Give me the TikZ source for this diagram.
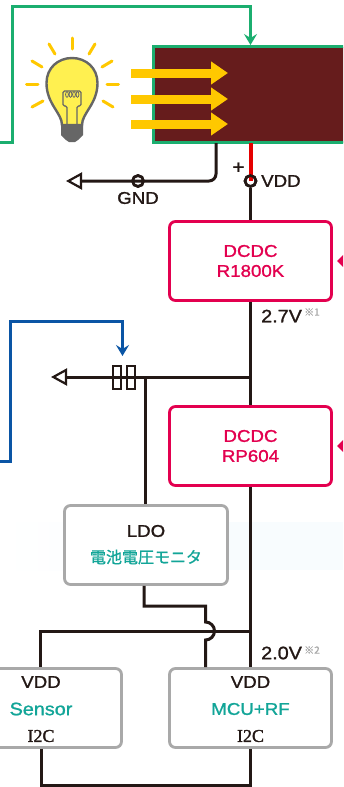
\documentclass[tikz,border=0pt]{standalone}
\usepackage{fontspec}
\setmainfont[FakeStretch=1.1,FakeBold=1.2]{Liberation Sans}
\newfontfamily\jp[FakeBold=0.8]{Noto Sans CJK JP}
\newfontfamily\serifc[FakeBold=1.5]{Liberation Serif}
\usetikzlibrary{arrows.meta,shapes.geometric,calc}
\definecolor{wire}{HTML}{231815}
\definecolor{grn}{HTML}{1BAE6F}
\definecolor{blu}{HTML}{0A55A5}
\definecolor{mag}{HTML}{E3004F}
\definecolor{gry}{HTML}{A9A9A9}
\definecolor{teal2}{HTML}{12A598}
\definecolor{panel}{HTML}{661C1C}
\definecolor{amber}{HTML}{FFC800}
\definecolor{bulbgry}{HTML}{666666}
\definecolor{bulbfill}{HTML}{FFF050}
\definecolor{band}{HTML}{F8FCFE}
\tikzset{
  wireline/.style={draw=wire,line width=3pt},
  dcdc/.style={draw=mag,line width=2.8pt,rounded corners=6pt,fill=white,minimum width=162pt,minimum height=79pt,inner sep=0pt},
  greybox/.style={draw=gry,line width=2.8pt,rounded corners=6pt,fill=white,minimum height=79pt,inner sep=0pt},
  dctext/.style={text=mag,font=\fontsize{17}{20}\selectfont,align=center,inner sep=0pt},
  blk/.style={text=wire,font=\fontsize{17}{18}\selectfont,inner sep=0pt},
  volt/.style={text=wire,font=\fontsize{18}{20}\selectfont,inner sep=0pt},
  tealt/.style={text=teal2,font=\fontsize{17}{20}\selectfont,inner sep=0pt},
  note/.style={text=gry,font=\jp\fontsize{10}{11}\selectfont,inner sep=0pt},
  ring/.style={circle,draw=wire,line width=2.6pt,minimum size=11pt,inner sep=0pt},
  ray/.style={draw=amber,line width=3pt,line cap=round},
  sunarrow/.style={draw=amber,line width=9pt,-{Triangle[length=17pt,width=22pt,fill=amber]}},
  openhead/.style={-{Triangle[open,length=16pt,width=17pt,fill=white,line width=2.2pt]}},
  chevron/.style={-{Stealth[length=11pt,width=13pt,inset=4pt]}},
  capbox/.style={draw=wire,line width=2.6pt,minimum width=8pt,minimum height=23pt,inner sep=0pt,fill=white},
  diam/.style={diamond,fill=mag,minimum size=14pt,inner sep=0pt}
}
\begin{document}
\begin{tikzpicture}[x=1pt,y=-1pt]
\useasboundingbox (0,0) rectangle (343,787);
\clip (0,0) rectangle (343,787);
\fill[white] (0,0) rectangle (343,787);
% faint background band
\shade[left color=white,right color=band] (0,522) rectangle (225,570);
\fill[band] (225,522) rectangle (343,570);

% ---- coordinates
\coordinate (gl) at (0,142);
\coordinate (g1) at (12,142);
\coordinate (g2) at (12,6);
\coordinate (g3) at (250.5,6);
\coordinate (bl) at (0,461);
\coordinate (b1) at (10,461);
\coordinate (b2) at (10,321);
\coordinate (b3) at (122.5,321);
\coordinate (b4) at (122.5,356);
\coordinate (gndend) at (66,181);
\coordinate (gndc) at (216,181);
\coordinate (pvneg) at (216,143);
\coordinate (pvpos) at (250.5,143);
\coordinate (tap) at (250.5,377);
\coordinate (lend) at (51,377);
\coordinate (tapl) at (145.5,377);
\coordinate (bus) at (250.5,631);
\coordinate (busl) at (40.5,631);
\coordinate (w1) at (144,606);
\coordinate (w2) at (205.5,606);
\coordinate (w3) at (205.5,622);
\coordinate (w4) at (205.5,640);
\coordinate (botl) at (41,785);
\coordinate (botr) at (250.5,785);

% ---- solar panel
\node[draw=grn,fill=panel,line width=3.4pt,minimum width=260pt,minimum height=96pt,inner sep=0pt,anchor=north west] (pv) at (152,45) {};

% ---- boxes
\node[dcdc] (r18) at (250.5,261) {};
\node[dcdc] (rp6) at (250.5,446) {};
\node[greybox,minimum width=163pt] (ldo) at (146,545) {};
\node[greybox,minimum width=162pt] (mcu) at (250.5,708) {};
\node[greybox,minimum width=160pt] (sen) at (41.5,708) {};

% ---- rings
\node[ring] (gnd) at (138,181) {};
\node[ring] (vdd) at (250.5,181) {};

% ---- capacitors
\node[capbox] (c1) at (117,377.5) {};
\node[capbox] (c2) at (131,377.5) {};

% ---- wires
\draw[grn,line width=3pt,chevron] (gl) -- (g1) -- (g2) -- (g3) -- (pv.north -| g3);
\draw[blu,line width=3pt,chevron] (bl) -- (b1) -- (b2) -- (b3) -- (b4);
\draw[wireline,openhead,rounded corners=7pt] (pvneg) -- (gndc) -- (gndend);
\draw[line width=4pt,draw=red!90!black] (pvpos) -- (vdd.center);
\draw[wireline] (vdd.south) -- (r18.north);
\draw[wireline] (r18.south) -- (rp6.north);
\draw[wireline,openhead] (tap) -- (lend);
\draw[wireline] (tapl) -- (tapl |- ldo.north);
\draw[wireline] (rp6.south) -- (mcu.north);
\draw[wireline] (bus) -- (busl) -- (busl |- sen.north);
\draw[wireline] (ldo.south -| w1) -- (w1) -- (w2) -- (w3) arc[start angle=-90,end angle=90,radius=9pt,y radius=-9pt] -- (mcu.north -| w4);
\draw[wireline] (sen.south -| botl) -- (botl) -- (botr) -- (mcu.south -| botr);
\node[capbox,fill=none] at (c1) {};
\node[capbox,fill=none] at (c2) {};
\node[ring] at (gnd) {};
\node[ring] at (vdd) {};

% ---- diamonds
\node[diam] (d1) at (344,261) {};
\node[diam] (d2) at (344,446) {};

% ---- sun arrows
\foreach \yy in {73,99,124}{
  \draw[sunarrow] (131,\yy) -- (228,\yy);
}

% ---- bulb
\foreach \a/\b/\c/\d in {72/38/72/49, 49/44/55/54, 95/44/89/54, 32/61/42/67, 112/61/102/67, 26.5/84/38/84, 107/84/118.5/84, 32/107/43/101, 113/107/103/101}{
  \draw[ray] (\a,\b) -- (\c,\d);
}
\fill[bulbgry] (61,125) -- (83,125) -- (83,135) -- (78,140) -- (75,142) -- (69,142) -- (66,140) -- (61,135) -- cycle;
\draw[draw=bulbgry,fill=bulbfill,line width=2.4pt]
  (62,125) .. controls (62,113) and (46.5,104) .. (46.5,83)
  .. controls (46.5,68) and (58,58) .. (72,58)
  .. controls (86,58) and (97.5,68) .. (97.5,83)
  .. controls (97.5,104) and (82,113) .. (82,125) -- cycle;
\draw[bulbgry,line width=1.3pt,rounded corners=1.5pt] (67,124) -- (67,106) -- (63,106) -- (63,91) -- (81,91) -- (81,106) -- (77,106) -- (77,124);
\foreach \xx in {67,70.5,74,77.5}{
  \draw[bulbgry,line width=.8pt] (\xx,94.5) ellipse[x radius=1.4pt,y radius=2.8pt];
}

% ---- labels
\node[blk] (tgnd) at (138,198) {GND};
\node[blk,font=\fontsize{19}{20}\selectfont] (tplus) at (238.5,168) {+};
\node[blk,anchor=west] (tvdd) at (261,181) {VDD};
\node[dctext] at (250.5,251) {DCDC};
\node[dctext] at (250.5,271) {R1800K};
\node[dctext] at (250.5,436) {DCDC};
\node[dctext] at (250.5,456) {RP604};
\node[volt,anchor=west] (t27) at (261,316) {2.7V};
\node[note,anchor=west] (n1) at (304,312) {※1};
\node[blk] at (146,531) {LDO};
\node[text=teal2,font=\jp\fontsize{16}{18}\selectfont,inner sep=0pt] at (146,557) {電池電圧モニタ};
\node[volt,anchor=west] (t20) at (261,653) {2.0V};
\node[note,anchor=west] (n2) at (304,650) {※2};
\node[blk] at (250.5,682) {VDD};
\node[tealt] at (250.5,709) {MCU+RF};
\node[blk,font=\serifc\fontsize{18}{20}\selectfont] at (250.5,736) {I2C};
\node[blk] at (41,682) {VDD};
\node[tealt,font=\fontsize{18}{20}\selectfont] at (41,709) {Sensor};
\node[blk,font=\serifc\fontsize{18}{20}\selectfont] at (41,736) {I2C};
\end{tikzpicture}
\end{document}
